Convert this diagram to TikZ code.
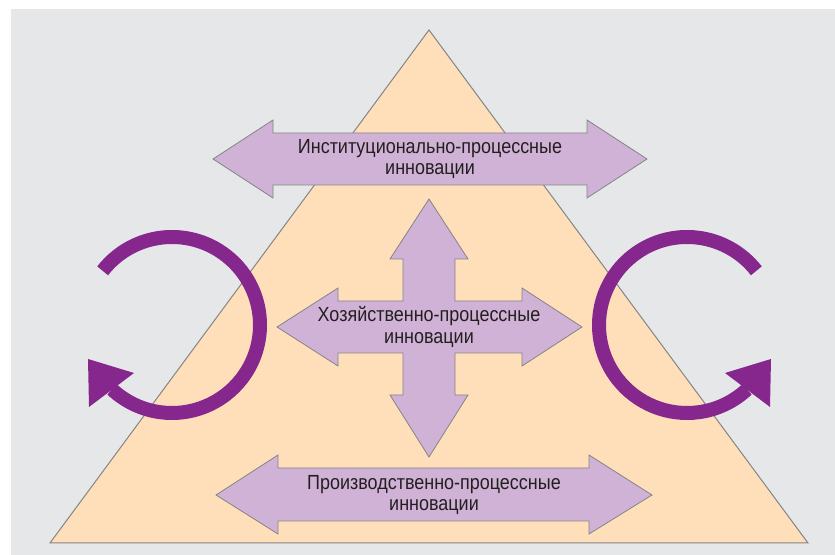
\documentclass[tikz,border=0pt]{standalone}
\usepackage{fontspec}
\newfontfamily\condfont[FakeStretch=0.88]{Liberation Sans}
\definecolor{bggray}{HTML}{E6E7E8}
\definecolor{peach}{HTML}{FEDFB9}
\definecolor{lilac}{HTML}{CFB2D5}
\definecolor{edgegray}{HTML}{858585}
\definecolor{ringpurple}{HTML}{85278D}
\definecolor{textdark}{HTML}{231F20}
\begin{document}
\begin{tikzpicture}[x=1bp,y=1bp,
		arrowshape/.style={fill=lilac,draw=edgegray,line width=0.8bp,line join=miter},
		innovtext/.style={align=center,text=textdark,font=\condfont\fontsize{20.5}{22}\selectfont},
		cyclearc/.style={draw=ringpurple,line width=14bp}]
		\useasboundingbox (0,0) rectangle (835,555);
		\fill[white] (0,0) rectangle (835,555);
		\fill[bggray] (11,0) rectangle (835,546);
		
		% triangle
		\filldraw[fill=peach,draw=edgegray,line width=1bp] (50,12) -- (808,12) -- (429,525) -- cycle;
		
		% top and bottom double arrows
		\filldraw[arrowshape] (213,396) -- (273,435) -- (273,422) -- (587,422) -- (587,435) -- (647,396)
			-- (587,357) -- (587,370) -- (273,370) -- (273,357) -- cycle;
		\filldraw[arrowshape] (216,60) -- (278,100) -- (278,87) -- (589,87) -- (589,100) -- (652,60)
			-- (589,21) -- (589,34) -- (278,34) -- (278,21) -- cycle;
		
		% cross
		\filldraw[arrowshape] (429,356) -- (468,296) -- (455,296) -- (455,254) -- (522,254) -- (522,267)
			-- (582,228) -- (522,189) -- (522,202) -- (455,202) -- (455,160) -- (468,160)
			-- (429,98) -- (390,160) -- (403,160) -- (403,202) -- (338,202) -- (338,189)
			-- (277,228) -- (338,267) -- (338,254) -- (403,254) -- (403,296) -- (390,296) -- cycle;
		
		\node[innovtext] (inst) at (430,396) {Институционально-процессные\\инновации};
		\node[innovtext] (hoz) at (429,228) {Хозяйственно-процессные\\инновации};
		\node[innovtext] (proizv) at (434,60) {Производственно-процессные\\инновации};
		
		% circular arrows
		\coordinate (lc) at (172,230);
		\coordinate (rc) at (687,230);
		\draw[cyclearc] (lc) ++(142:88) arc[start angle=142,end angle=-133,radius=88];
		\fill[ringpurple] (88,196) -- (89,148) -- (134,182) -- cycle;
		\draw[cyclearc] (rc) ++(38:88) arc[start angle=38,end angle=313,radius=88];
		\fill[ringpurple] (771,196) -- (770,148) -- (725,182) -- cycle;
	\end{tikzpicture}
\end{document}
